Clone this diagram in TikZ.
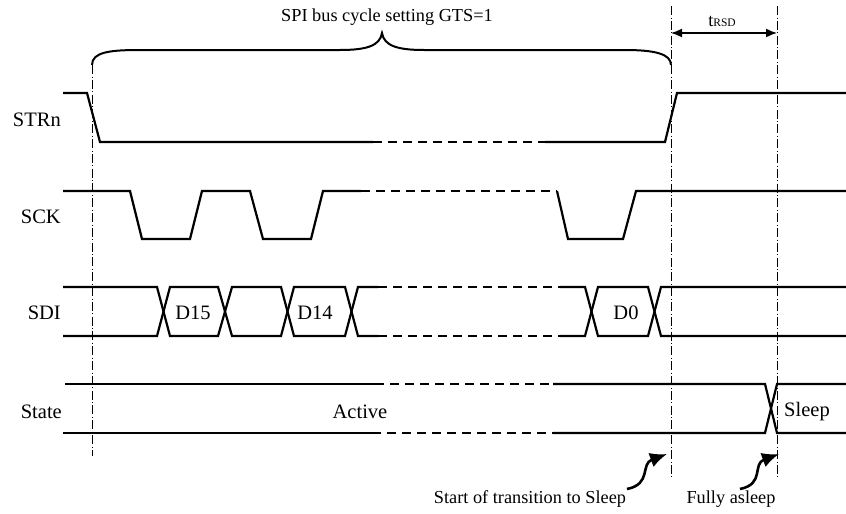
\documentclass[tikz,border=0pt]{standalone}
\usepackage{fontspec}
\setmainfont{Liberation Serif}
\usetikzlibrary{arrows.meta}
\begin{document}
\begin{tikzpicture}[x=1pt,y=-1pt,
  sig/.style={line width=2.2pt,line join=miter},
  sigdash/.style={line width=2.2pt,dash pattern=on 9pt off 6pt},
  guide/.style={line width=0.8pt,dash pattern=on 9pt off 2.5pt on 0.8pt off 2.5pt},
  siglabel/.style={anchor=east,inner sep=0pt,font=\fontsize{20.5}{22}\selectfont},
  inlabel/.style={inner sep=0pt,font=\fontsize{20.5}{22}\selectfont},
  note/.style={inner sep=0pt,font=\fontsize{18.3}{20}\selectfont},
  callout/.style={line width=2.6pt,-{Latex[length=17pt,width=15pt]}},
  dimarrow/.style={line width=1.5pt,{Latex[length=11pt,width=9pt]}-{Latex[length=11pt,width=9pt]}}]
\useasboundingbox (0,0) rectangle (846,514);

% guide lines
\coordinate (g1t) at (92,65);   \coordinate (g1b) at (92,456);
\coordinate (g2t) at (671,6);   \coordinate (g2b) at (671,478);
\coordinate (g3t) at (777,6);   \coordinate (g3b) at (777,478);
\draw[guide] (g1t) -- (g1b);
\draw[guide] (g2t) -- (g2b);
\draw[guide] (g3t) -- (g3b);

% brace
\draw[line width=2pt] (g1t) .. controls (92,52) and (110,50) .. (140,50) -- (340,50)
  .. controls (366,50) and (380,46) .. (382,33)
  .. controls (384,46) and (398,50) .. (424,50) -- (625,50)
  .. controls (655,50) and (671,54) .. (671,65);
\node[note] (spi) at (387,17) {SPI bus cycle setting GTS=1};

% tRSD
\coordinate (r1) at (671,33);
\coordinate (r2) at (777,33);
\draw[dimarrow] (r1) -- (r2);
\node[note] (trsd) at (722,21) {t{\fontsize{11.5}{12}\selectfont RSD}};

% signal labels
\node[siglabel] (lstrn) at (61,120) {STRn};
\node[siglabel] (lsck) at (61,217) {SCK};
\node[siglabel] (lsdi) at (61,313) {SDI};
\node[siglabel] (lstate) at (62,412) {State};

% STRn
\draw[sig] (63,93) -- (87,93) -- (100,142) -- (373,142);
\draw[sigdash] (373,142) -- (545,142);
\draw[sig] (545,142) -- (665,142) -- (677,93) -- (846,93);

% SCK
\draw[sig] (63,191) -- (130,191) -- (142,239) -- (190,239) -- (202,191) -- (250,191)
  -- (263,239) -- (311,239) -- (323,191) -- (361,191);
\draw[sigdash] (361,191) -- (557,191);
\draw[sig] (557,191) -- (568,239) -- (623,239) -- (636,191) -- (846,191);

% SDI
\draw[sig] (63,287) -- (157,287) -- (170,336) -- (218,336) -- (232,287) -- (281,287)
  -- (294,336) -- (345,336) -- (358,287) -- (378,287);
\draw[sig] (63,336) -- (157,336) -- (170,287) -- (218,287) -- (232,336) -- (281,336)
  -- (294,287) -- (345,287) -- (358,336) -- (378,336);
\draw[sigdash] (378,287) -- (560,287);
\draw[sigdash] (378,336) -- (560,336);
\draw[sig] (560,287) -- (585,287) -- (598,336) -- (648,336) -- (661,287) -- (846,287);
\draw[sig] (560,336) -- (585,336) -- (598,287) -- (648,287) -- (661,336) -- (846,336);
\node[inlabel] (d15) at (193,313) {D15};
\node[inlabel] (d14) at (315,313) {D14};
\node[inlabel] (d0) at (626,313) {D0};

% State
\draw[sig] (65,384) -- (375,384);
\draw[sigdash] (375,384) -- (553,384);
\draw[sig] (553,384) -- (765,384) -- (777,433) -- (846,433);
\draw[sig] (63,433) -- (372,433);
\draw[sigdash] (372,433) -- (553,433);
\draw[sig] (553,433) -- (765,433) -- (777,384) -- (846,384);
\node[inlabel] (active) at (360,412) {Active};
\node[inlabel] (sleep) at (807,412) {Sleep};

% callouts
\node[note] (start) at (530,499) {Start of transition to Sleep};
\node[note] (asleep) at (731,499) {Fully asleep};
\coordinate (a1s) at (627,489); \coordinate (a1e) at (667,454);
\coordinate (a2s) at (740,489); \coordinate (a2e) at (779,454);
\draw[callout] (a1s) .. controls (652,484) and (640,464) .. (a1e);
\draw[callout] (a2s) .. controls (765,484) and (752,464) .. (a2e);
\end{tikzpicture}
\end{document}
